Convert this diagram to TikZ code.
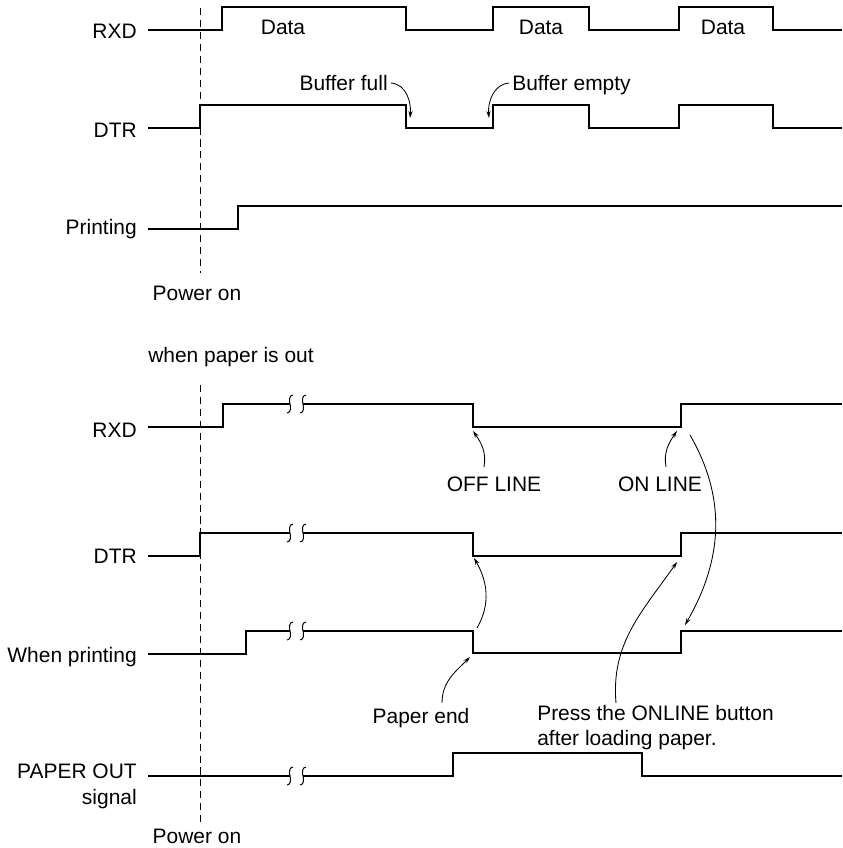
\documentclass[tikz,border=0pt]{standalone}
\usepackage{fontspec}
\setmainfont{Liberation Sans}
\usetikzlibrary{arrows.meta, calc}

\begin{document}
\begin{tikzpicture}[
    x=0.025cm, y=-0.025cm,
    every node/.style={font=\fontsize{14.9}{18}\selectfont, inner sep=0pt},
    siglabel/.style={anchor=base east},
    wave/.style={line width=1.2pt},
    powerline/.style={line width=0.6pt, dash pattern=on 5pt off 3.5pt},
    remark/.style={-{Stealth[length=5pt, width=3pt]}, line width=0.6pt},
    breakmark/.style={line width=0.7pt},
]
    \useasboundingbox (0,0) rectangle (842,848);

    % normal printing
    \node[siglabel] (rxdA) at (137,38) {RXD};
    \node[siglabel] (dtrA) at (137,137) {DTR};
    \node[siglabel] (prnA) at (137,234) {Printing};
    \node[anchor=base] (powA) at (197,300) {Power on};
    \draw[powerline] (200,8) -- (200,273);

    \draw[wave] (148,30) -- (222,30) -- (222,7) -- (406,7) -- (406,30)
        -- (493,30) -- (493,7) -- (589,7) -- (589,30) -- (679,30)
        -- (679,7) -- (773,7) -- (773,30) -- (842,30);
    \node[anchor=base] (dataA) at (283,34) {Data};
    \node[anchor=base] (dataB) at (541,34) {Data};
    \node[anchor=base] (dataC) at (723,34) {Data};

    \draw[wave] (148,128) -- (200,128) -- (200,105) -- (406,105) -- (406,128)
        -- (493,128) -- (493,105) -- (589,105) -- (589,128) -- (679,128)
        -- (679,105) -- (773,105) -- (773,128) -- (842,128);
    \node[anchor=base east] (full) at (388,90) {Buffer full};
    \node[anchor=base west] (empty) at (512,90) {Buffer empty};
    \coordinate (fullTip) at (410,118);
    \coordinate (emptyTip) at (489,118);
    \draw[remark] ($(full.base east)+(3,-7)$) to[out=-5, in=85] (fullTip);
    \draw[remark] ($(empty.base west)+(-3,-7)$) to[out=185, in=95] (emptyTip);

    \draw[wave] (148,229) -- (238,229) -- (238,206) -- (842,206);

    % paper out
    \node[anchor=base west] (paperOut) at (148,362) {when paper is out};

    \node[siglabel] (rxdB) at (137,437) {RXD};
    \node[siglabel] (dtrB) at (137,563) {DTR};
    \node[siglabel] (prnB) at (137,662) {When printing};
    \node[siglabel] (pout) at (137,778) {PAPER OUT};
    \node[siglabel] (psig) at (137,804) {signal};
    \node[anchor=base] (powB) at (197,843) {Power on};
    \draw[powerline] (200,385) -- (200,823);

    \draw[wave] (148,427) -- (223,427) -- (223,404) -- (290,404);
    \draw[wave] (303,404) -- (473,404) -- (473,427) -- (681,427) -- (681,404) -- (842,404);
    \draw[wave] (148,556) -- (200,556) -- (200,533) -- (290,533);
    \draw[wave] (303,533) -- (473,533) -- (473,556) -- (681,556) -- (681,533) -- (842,533);
    \draw[wave] (148,654) -- (246,654) -- (246,631) -- (290,631);
    \draw[wave] (303,631) -- (473,631) -- (473,653) -- (681,653) -- (681,631) -- (842,631);
    \draw[wave] (148,776) -- (290,776);
    \draw[wave] (303,776) -- (453,776) -- (453,753) -- (642,753) -- (642,776) -- (842,776);

    \foreach \y in {404,533,631,776}{
        \foreach \x in {290,303}{
            \draw[breakmark] (\x+3,\y-9) .. controls (\x-1,\y-9) and (\x-1,\y-3) .. (\x,\y)
                .. controls (\x+1,\y+3) and (\x+1,\y+9) .. (\x-3,\y+9);
        }
    }

    \node[anchor=base] (offLine) at (494,491) {OFF LINE};
    \node[anchor=base] (onLine) at (660,491) {ON LINE};
    \node[anchor=base] (paperEnd) at (421,723) {Paper end};
    \node[anchor=base west] (pressA) at (537,720) {Press the ONLINE button};
    \node[anchor=base west] (pressB) at (537,745) {after loading paper.};

    \coordinate (offTip) at (473,431);
    \coordinate (onTip) at (677,431);
    \coordinate (rxdOn) at (690,435);
    \coordinate (prnOn) at (685,625);
    \coordinate (prnOff) at (477,628);
    \coordinate (dtrOff) at (474,558);
    \coordinate (endTip) at (470,657);
    \coordinate (dtrOn) at (677,562);

    \draw[remark] ($(offLine.base)+(-10,-24)$) to[out=80, in=-55] (offTip);
    \draw[remark] ($(onLine.base)+(6,-24)$) to[out=100, in=-125] (onTip);
    \draw[remark] (rxdOn) to[out=-60, in=60] (prnOn);
    \draw[remark] (prnOff) to[out=60, in=-60] (dtrOff);
    \draw[remark] ($(paperEnd.base)+(21,-20)$) to[out=90, in=-135] (endTip);
    \draw[remark] ($(pressA.base west)+(79,-17)$) to[out=95, in=-125] (dtrOn);
\end{tikzpicture}
\end{document}
